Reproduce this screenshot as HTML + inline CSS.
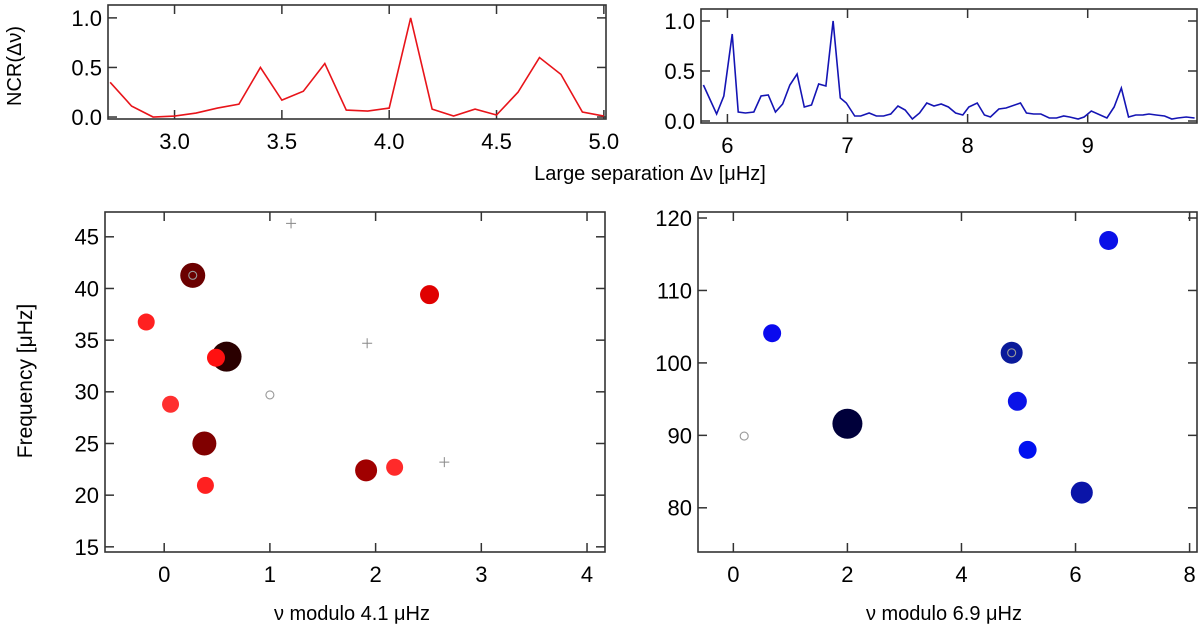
<!DOCTYPE html>
<html><head><meta charset="utf-8">
<style>
html,body{margin:0;padding:0;background:#fff;}
svg{display:block;font-family:"Liberation Sans",sans-serif;}
</style></head>
<body>
<svg id="fig" width="1200" height="635" viewBox="0 0 1200 635" xmlns="http://www.w3.org/2000/svg">
<text transform="translate(21,66) rotate(-90)" text-anchor="middle" font-size="20">NCR(Δν)</text>
<text x="650" y="180" text-anchor="middle" font-size="20">Large separation Δν [μHz]</text>
<text transform="translate(32,381) rotate(-90)" text-anchor="middle" font-size="21">Frequency [μHz]</text>
<text x="352" y="620" text-anchor="middle" font-size="20">ν  modulo 4.1 μHz</text>
<text x="944" y="620" text-anchor="middle" font-size="20">ν  modulo 6.9 μHz</text>
</svg>
<script>
// Top-left: NCR vs large separation (red)
const sepA = [2.7,2.8,2.9,3.0,3.1,3.2,3.3,3.4,3.5,3.6,3.7,3.8,3.9,4.0,4.1,4.2,4.3,4.4,4.5,4.6,4.7,4.8,4.9,5.0];
const ncrA = [0.35,0.11,0.0,0.01,0.04,0.09,0.13,0.50,0.17,0.26,0.54,0.07,0.06,0.09,1.0,0.08,0.01,0.08,0.02,0.25,0.60,0.43,0.05,0.01];
const ticksAx = [3.0,3.5,4.0,4.5,5.0];
const ticksAy = [0.0,0.5,1.0];
// Top-right: NCR vs large separation (blue)
const sepB = [5.80,5.91,5.97,6.04,6.09,6.15,6.22,6.28,6.34,6.40,6.46,6.52,6.58,6.64,6.70,6.76,6.82,6.88,6.94,6.99,7.06,7.11,7.18,7.24,7.30,7.36,7.42,7.48,7.54,7.60,7.66,7.72,7.78,7.84,7.90,7.96,8.01,8.08,8.14,8.19,8.26,8.32,8.44,8.49,8.55,8.61,8.68,8.74,8.80,8.85,8.92,8.97,9.03,9.16,9.22,9.28,9.34,9.40,9.46,9.51,9.57,9.64,9.70,9.75,9.82,9.89];
const ncrB = [0.36,0.07,0.25,0.87,0.09,0.08,0.09,0.25,0.26,0.09,0.17,0.36,0.47,0.14,0.16,0.37,0.35,1.0,0.23,0.18,0.05,0.05,0.08,0.05,0.05,0.07,0.15,0.11,0.02,0.08,0.18,0.15,0.17,0.14,0.08,0.06,0.14,0.18,0.06,0.04,0.12,0.13,0.18,0.08,0.07,0.07,0.03,0.03,0.05,0.04,0.02,0.04,0.10,0.03,0.14,0.33,0.04,0.06,0.06,0.07,0.06,0.05,0.02,0.03,0.04,0.03];
const ticksBx = [6,7,8,9];
const ticksBy = [0.0,0.5,1.0];
// Bottom-left echelle (mod 4.1)
const modC = [0.27,-0.17,0.59,0.49,0.06,0.38,0.39,1.91,2.18,2.51];
const freqC = [41.27,36.75,33.4,33.3,28.8,25.0,20.95,22.4,22.7,39.4];
const sizeC = [12.5,8.5,15,9,8.5,12,8.5,11,8.5,9.5];
const colorC = ["#6b0000","#ff2020","#2a0000","#ff1010","#ff3030","#800000","#ff2020","#a00000","#ff2a2a","#e00000"];
const openC = [[1.0,29.7],[0.27,41.27]];
const plusC = [[1.20,46.3],[1.92,34.7],[2.65,23.2]];
const ticksCx = [0,1,2,3,4];
const ticksCy = [15,20,25,30,35,40,45];
// Bottom-right echelle (mod 6.9)
const modD = [0.68,4.88,4.98,5.16,6.11,6.58,2.0];
const freqD = [104.1,101.4,94.7,88.0,82.1,116.9,91.6];
const sizeD = [9,11,9.5,9,11,9.5,15];
const colorD = ["#0a0aee","#0a1a9a","#0a12e8","#0010f0","#0a14a8","#0a10e8","#00003a"];
const openD = [[0.19,89.9],[4.88,101.4]];
const ticksDx = [0,2,4,6,8];
const ticksDy = [80,90,100,110,120];

const NS="http://www.w3.org/2000/svg";
const svg=document.getElementById('fig');
function mk(tag,attrs,parent){const e=document.createElementNS(NS,tag);for(const k in attrs)e.setAttribute(k,attrs[k]);(parent||svg).appendChild(e);return e;}
function scale(d0,d1,p0,p1){return v=>p0+(v-d0)*(p1-p0)/(d1-d0);}

function axes(name,box,xd,yd,xt,yt,xfmt,yfmt,fs){
  const g=mk('g',{});
  
  
  const X=scale(xd[0],xd[1],box.l,box.r), Y=scale(yd[0],yd[1],box.b,box.t);
  const fr=mk('rect',{x:box.l,y:box.t,width:box.r-box.l,height:box.b-box.t,fill:'none',stroke:'#333','stroke-width':1.6},g);
  
  
  xt.forEach(v=>{const x=X(v);
    mk('line',{x1:x,x2:x,y1:box.b,y2:box.b-9,stroke:'#333','stroke-width':1.5},g);
    mk('line',{x1:x,x2:x,y1:box.t,y2:box.t+9,stroke:'#333','stroke-width':1.5},g);
    const t=mk('text',{x:x,y:box.b+fs+8,'text-anchor':'middle','font-size':fs},g);t.textContent=xfmt(v);
    
    
  });
  yt.forEach(v=>{const y=Y(v);
    mk('line',{x1:box.l,x2:box.l+9,y1:y,y2:y,stroke:'#333','stroke-width':1.5},g);
    mk('line',{x1:box.r,x2:box.r-9,y1:y,y2:y,stroke:'#333','stroke-width':1.5},g);
    const t=mk('text',{x:box.l-6,y:y+fs*0.36,'text-anchor':'end','font-size':fs},g);t.textContent=yfmt(v);
    
    
  });
  return {X,Y,g};
}
const f1=v=>v.toFixed(1), f0=v=>String(v);

// Top-left
let A=axes('ncr-plot-left',{l:108,r:606,t:5,b:119},[2.69,5.01],[-0.02,1.13],ticksAx,ticksAy,f1,f1,22);
let pl=mk('polyline',{points:sepA.map((s,i)=>A.X(s)+','+A.Y(ncrA[i])).join(' '),fill:'none',stroke:'#e8141a','stroke-width':1.6},A.g);



// Top-right
let B=axes('ncr-plot-right',{l:701,r:1197,t:9,b:123},[5.78,9.91],[-0.02,1.12],ticksBx,ticksBy,f0,f1,22);
pl=mk('polyline',{points:sepB.map((s,i)=>B.X(s)+','+B.Y(ncrB[i])).join(' '),fill:'none',stroke:'#1414b4','stroke-width':1.6},B.g);



function scatter(P,mods,freqs,sizes,colors,opens,pluses,prefix){
  mods.forEach((m,i)=>{
    const c=mk('circle',{cx:P.X(m),cy:P.Y(freqs[i]),r:sizes[i],fill:colors[i]},P.g);
    
    
  });
  opens.forEach(o=>{
    const c=mk('circle',{cx:P.X(o[0]),cy:P.Y(o[1]),r:4,fill:'none',stroke:'#999','stroke-width':1.1},P.g);
    
    
  });
  pluses.forEach(p=>{
    const x=P.X(p[0]),y=P.Y(p[1]);
    const e=mk('path',{d:`M${x-5},${y}H${x+5}M${x},${y-5}V${y+5}`,stroke:'#888','stroke-width':1},P.g);
    
    
  });
}
// Bottom-left
let C=axes('echelle-plot-left',{l:105,r:605,t:212,b:552},[-0.56,4.17],[14.5,47.4],ticksCx,ticksCy,f0,f0,22);
scatter(C,modC,freqC,sizeC,colorC,openC,plusC,'red-echelle');
// Bottom-right
let D=axes('echelle-plot-right',{l:698,r:1197,t:212,b:552},[-0.62,8.13],[73.9,120.83],ticksDx,ticksDy,f0,f0,22);
scatter(D,modD,freqD,sizeD,colorD,openD,[],'blue-echelle');
</script>
</body></html>
